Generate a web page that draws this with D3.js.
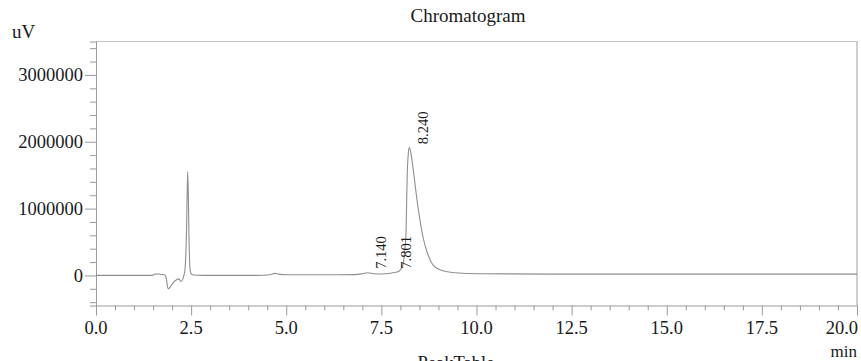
<!DOCTYPE html>
<html>
<head>
<meta charset="utf-8">
<script src="https://cdn.jsdelivr.net/npm/d3@7"></script>
<style>
  html, body { margin: 0; padding: 0; background: #fff; }
  svg { display: block; }
  text { font-family: "Liberation Serif", "Times New Roman", serif; fill: #1a1a1a; }
</style>
</head>
<body>
<svg id="chart" width="861" height="361"></svg>
<script>
// Detector signal (uV) sampled at retention time (min)
const times = [0.00, 0.50, 1.00, 1.40, 1.50, 1.55, 1.65, 1.72, 1.80, 1.85, 1.88, 1.90, 1.95, 2.02, 2.08,
  2.15, 2.18, 2.22, 2.25, 2.29, 2.31, 2.34, 2.36, 2.38, 2.395, 2.41, 2.425, 2.44, 2.455, 2.47, 2.49, 2.53,
  2.65, 3.00, 4.00, 4.40, 4.60, 4.70, 4.80, 5.00, 6.00, 6.80, 7.00, 7.14, 7.30, 7.50, 7.70, 7.80, 7.95,
  8.03, 8.07, 8.11, 8.147, 8.166, 8.18, 8.20, 8.215, 8.234, 8.27, 8.31, 8.36, 8.42, 8.50, 8.60, 8.70,
  8.80, 8.90, 9.04, 9.20, 9.43, 10.1, 12.0, 15.0, 20.0];
const signal = [0, 0, 0, 0, 5000, 20000, 22000, 15000, 10000, -50000, -170000, -200000, -175000, -115000, -80000,
  -55000, -52000, -85000, -88000, -40000, 0, 100000, 300000, 700000, 1200000, 1550000, 1250000, 700000, 300000, 110000, 40000, 10000,
  3000, 0, 0, 3000, 15000, 30000, 20000, 10000, 10000, 12000, 25000, 40000, 25000, 22000, 28000, 40000, 60000,
  110000, 160000, 350000, 640000, 1135000, 1525000, 1760000, 1870000, 1915000, 1850000, 1700000, 1480000, 1200000, 880000, 560000, 350000,
  210000, 130000, 85000, 60000, 40000, 25000, 20000, 20000, 20000];

// Integrated peaks (retention time labels)
const peakTimes = [7.140, 7.801, 8.240];
const peakLabels = ["7.140", "7.801", "8.240"];

// Axis ticks
const xMajorTicks = [0, 2.5, 5, 7.5, 10, 12.5, 15, 17.5, 20];
const xTickLabels = ["0.0", "2.5", "5.0", "7.5", "10.0", "12.5", "15.0", "17.5", "20.0"];
const yMajorTicks = [0, 1000000, 2000000, 3000000];
const yTickLabels = ["0", "1000000", "2000000", "3000000"];

const svg = d3.select("#chart");
const plotLeft = 96, plotRight = 857, plotTop = 41.5, plotBottom = 305.5;

const x = d3.scaleLinear().domain([0, 20]).range([plotLeft, plotRight]);
const y = d3.scaleLinear().domain([-450000, 3500000]).range([plotBottom, plotTop]);

// Frame: top and right borders
svg.append("line").attr("x1", plotLeft).attr("x2", plotRight).attr("y1", plotTop).attr("y2", plotTop)
  .attr("stroke", "#c4c4c4").attr("stroke-width", 1.2);
svg.append("line").attr("x1", plotRight).attr("x2", plotRight).attr("y1", plotTop).attr("y2", plotBottom)
  .attr("stroke", "#b0b0b0").attr("stroke-width", 1.2);

// X axis with minor ticks every 0.5 min
const xAxis = svg.append("g").attr("transform", `translate(0,${plotBottom})`);
xAxis.call(d3.axisBottom(x).tickValues(d3.range(0, 20.001, 0.5)).tickSize(5).tickFormat(""));
xAxis.selectAll(".tick").filter(d => xMajorTicks.some(m => Math.abs(m - d) < 1e-6))
  .select("line").attr("y2", 10);
xAxis.select(".domain").attr("stroke", "#9a9a9a");
xAxis.selectAll(".tick line").attr("stroke", "#9a9a9a");
// the last label is kept inside the frame by aligning its right edge to the tick
const lastX = xMajorTicks.length - 1;
svg.append("g").selectAll("text").data(xMajorTicks).join("text")
  .attr("x", (d, i) => i === lastX ? x(d) + 1 : x(d)).attr("y", 334)
  .attr("text-anchor", (d, i) => i === lastX ? "end" : "middle")
  .attr("font-size", 18.5).text((d, i) => xTickLabels[i]);

// Y axis with minor ticks every 200000
const yAxis = svg.append("g").attr("transform", `translate(${plotLeft},0)`);
yAxis.call(d3.axisLeft(y).tickValues(d3.range(-400000, 3400001, 200000)).tickSize(6).tickFormat(""));
yAxis.selectAll(".tick").filter(d => yMajorTicks.includes(d)).select("line").attr("x2", -11);
yAxis.select(".domain").attr("stroke", "#9a9a9a");
yAxis.selectAll(".tick line").attr("stroke", "#9a9a9a");
svg.append("g").selectAll("text").data(yMajorTicks).join("text")
  .attr("x", 83).attr("y", d => y(d)).attr("dy", "0.34em").attr("text-anchor", "end")
  .attr("font-size", 18.5).text((d, i) => yTickLabels[i]);

// Chromatogram trace
const points = times.map((t, i) => [t, signal[i]]);
const line = d3.line().x(d => x(d[0])).y(d => y(d[1])).curve(d3.curveMonotoneX);
svg.append("path").datum(points).attr("d", line)
  .attr("fill", "none").attr("stroke", "#8f8f8f").attr("stroke-width", 1.1);

// Peak labels, placed from the signal at each retention time
const bis = d3.bisector(d => d).left;
function signalAt(t) {
  const i = Math.max(1, Math.min(times.length - 1, bis(times, t)));
  const t0 = times[i - 1], t1 = times[i];
  const f = (t - t0) / (t1 - t0);
  return signal[i - 1] + f * (signal[i] - signal[i - 1]);
}
svg.append("g").selectAll("text").data(peakTimes).join("text")
  .attr("transform", d => `translate(${x(d) + 18},${y(signalAt(d)) - 4}) rotate(-90)`)
  .attr("font-size", 14.5).text((d, i) => peakLabels[i]);

// Titles and units
svg.append("text").attr("x", 468).attr("y", 22).attr("text-anchor", "middle")
  .attr("font-size", 19).text("Chromatogram");
svg.append("text").attr("x", 12).attr("y", 37.5).attr("font-size", 19).text("uV");
svg.append("text").attr("x", 857).attr("y", 357).attr("text-anchor", "end")
  .attr("font-size", 17).text("min");
svg.append("text").attr("x", 456).attr("y", 369).attr("text-anchor", "middle")
  .attr("font-size", 18.5).text("PeakTable");
</script>
</body>
</html>
